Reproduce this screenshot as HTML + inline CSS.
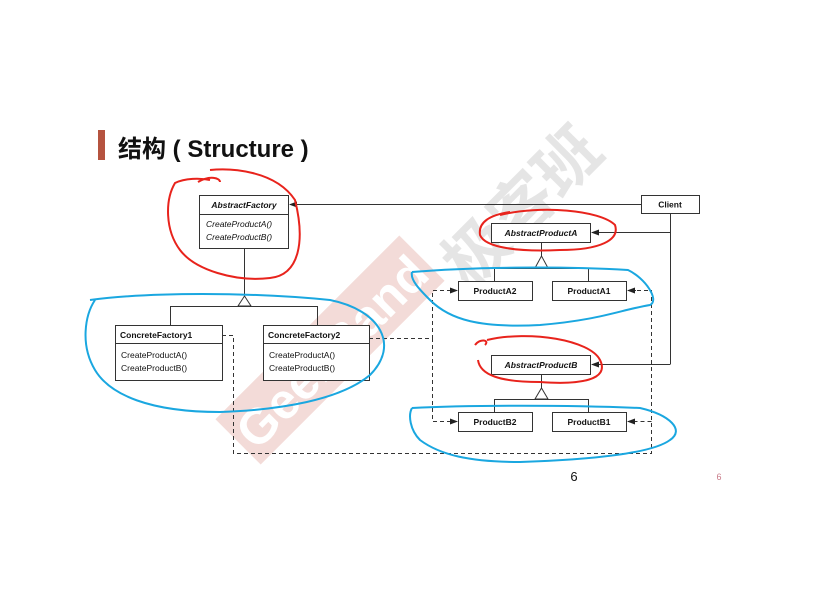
<!DOCTYPE html>
<html><head><meta charset="utf-8"><style>
body{margin:0;background:#fff;}
#c{position:relative;width:836px;height:589px;overflow:hidden;font-family:"Liberation Sans",sans-serif;}
.t{position:absolute;left:118px;top:129px;font-size:24px;font-weight:bold;font-family:"Liberation Sans","Noto Sans CJK SC",sans-serif;color:#111;white-space:nowrap;}
</style></head><body><div id="c">
<div style="position:absolute;left:98px;top:130px;width:7px;height:30px;background:#b5533f"></div>
<div class="t">结构 ( Structure )</div>
<svg width="836" height="589" style="position:absolute;left:0;top:0" font-family="Liberation Sans, sans-serif">
<defs><marker id="a" markerWidth="8" markerHeight="6" refX="7" refY="3" orient="auto"><path d="M0,0L8,3L0,6z" fill="#222"/></marker></defs>
<g transform="translate(330,350) rotate(-45)" opacity="0.3">
<rect x="-130" y="-32" width="260" height="64" fill="#d98c80"/>
<text x="0" y="20" font-size="50" font-weight="bold" fill="#fff" text-anchor="middle">GeekBand</text>
</g>
<text x="0" y="0" transform="translate(470,290) rotate(-45)" font-size="64" font-weight="bold" fill="#ccc" opacity="0.5" font-family="Noto Sans CJK SC, sans-serif">极客班</text>
<g stroke="#333" fill="none" stroke-width="1">
<rect x="199.5" y="195.5" width="89" height="53" fill="#fff"/><line x1="199" y1="214.5" x2="288" y2="214.5"/>
<rect x="115.5" y="325.5" width="107" height="55" fill="#fff"/><line x1="115" y1="343.5" x2="222" y2="343.5"/>
<rect x="263.5" y="325.5" width="106" height="55" fill="#fff"/><line x1="263" y1="343.5" x2="369" y2="343.5"/>
<rect x="641.5" y="195.5" width="58" height="18" fill="#fff"/>
<rect x="491.5" y="223.5" width="99" height="19" fill="#fff"/>
<rect x="458.5" y="281.5" width="74" height="19" fill="#fff"/>
<rect x="552.5" y="281.5" width="74" height="19" fill="#fff"/>
<rect x="491.5" y="355.5" width="99" height="19" fill="#fff"/>
<rect x="458.5" y="412.5" width="74" height="19" fill="#fff"/>
<rect x="552.5" y="412.5" width="74" height="19" fill="#fff"/>
<line x1="244.5" y1="248" x2="244.5" y2="296"/><path d="M238,306L244.5,296L251,306z" fill="#fff"/>
<path d="M170.5,325V306.5H317.5V325"/>
<line x1="541.5" y1="242" x2="541.5" y2="256"/><path d="M535,268L541.5,256L548,268z" fill="#fff"/>
<path d="M494.5,281V268.5H588.5V281"/>
<line x1="541.5" y1="374" x2="541.5" y2="388"/><path d="M535,399L541.5,388L548,399z" fill="#fff"/>
<path d="M494.5,412V399.5H588.5V412"/>
<line x1="641" y1="204.5" x2="290" y2="204.5" marker-end="url(#a)"/>
<path d="M670.5,213V364.5"/>
<line x1="670" y1="232.5" x2="592" y2="232.5" marker-end="url(#a)"/>
<line x1="670" y1="364.5" x2="592" y2="364.5" marker-end="url(#a)"/>
<g stroke-dasharray="4,3">
<path d="M369,338.5H432.5V290.5H450"/>
<path d="M432.5,338V421.5H450"/>
<path d="M222,335.5H233.5V453.5H651.5V290.5H636"/>
<path d="M651.5,421.5H636"/>
</g>
<line x1="450" y1="290.5" x2="457" y2="290.5" marker-end="url(#a)"/>
<line x1="450" y1="421.5" x2="457" y2="421.5" marker-end="url(#a)"/>
<line x1="636" y1="290.5" x2="628" y2="290.5" marker-end="url(#a)"/>
<line x1="636" y1="421.5" x2="628" y2="421.5" marker-end="url(#a)"/>
</g>
<g font-size="8.5" fill="#111">
<text x="244" y="208" text-anchor="middle" font-weight="bold" font-style="italic">AbstractFactory</text>
<text x="206" y="227" font-style="italic">CreateProductA()</text>
<text x="206" y="240" font-style="italic">CreateProductB()</text>
<text x="120" y="338" font-weight="bold">ConcreteFactory1</text>
<text x="121" y="358">CreateProductA()</text>
<text x="121" y="371">CreateProductB()</text>
<text x="268" y="338" font-weight="bold">ConcreteFactory2</text>
<text x="269" y="358">CreateProductA()</text>
<text x="269" y="371">CreateProductB()</text>
<text x="670" y="207.5" text-anchor="middle" font-weight="bold">Client</text>
<text x="541" y="236" text-anchor="middle" font-weight="bold" font-style="italic">AbstractProductA</text>
<text x="495" y="294" text-anchor="middle" font-weight="bold">ProductA2</text>
<text x="589" y="294" text-anchor="middle" font-weight="bold">ProductA1</text>
<text x="541" y="368" text-anchor="middle" font-weight="bold" font-style="italic">AbstractProductB</text>
<text x="495" y="425" text-anchor="middle" font-weight="bold">ProductB2</text>
<text x="589" y="425" text-anchor="middle" font-weight="bold">ProductB1</text>
</g>
<text x="574" y="481" font-size="13" text-anchor="middle" fill="#111">6</text>
<text x="719" y="480" font-size="9" text-anchor="middle" fill="#c87a88">6</text>
<g fill="none" stroke-width="2">
<path stroke="#e8231c" d="M198,182C210,175 220,178 220,182M210,170C230,168 275,170 295,200C305,240 300,275 270,278C235,282 195,270 180,250C165,230 165,200 175,183C185,178 200,178 210,180"/>
<path stroke="#e8231c" d="M500,215C540,205 600,210 615,225C620,240 600,250 560,250C520,252 485,248 480,235C478,222 490,215 510,212"/>
<path stroke="#e8231c" d="M475,345C480,338 490,340 485,345M487,340C530,330 590,340 600,360C610,380 580,385 540,382C500,382 480,375 478,360"/>
<path stroke="#1aa7e0" d="M90,300C150,292 250,292 330,300C380,310 400,345 370,375C340,400 280,410 220,412C150,412 110,395 95,370C80,345 85,315 95,300"/>
<path stroke="#1aa7e0" d="M412,272C470,267 560,266 628,270C645,278 660,300 650,305C620,310 600,320 540,325C480,328 450,320 430,300C420,290 410,280 412,272"/>
<path stroke="#1aa7e0" d="M412,408C470,405 570,405 640,408C670,415 685,430 670,440C650,455 580,460 520,462C470,462 440,455 420,440C410,430 408,415 412,408"/>
</g>
</svg>
</div></body></html>
